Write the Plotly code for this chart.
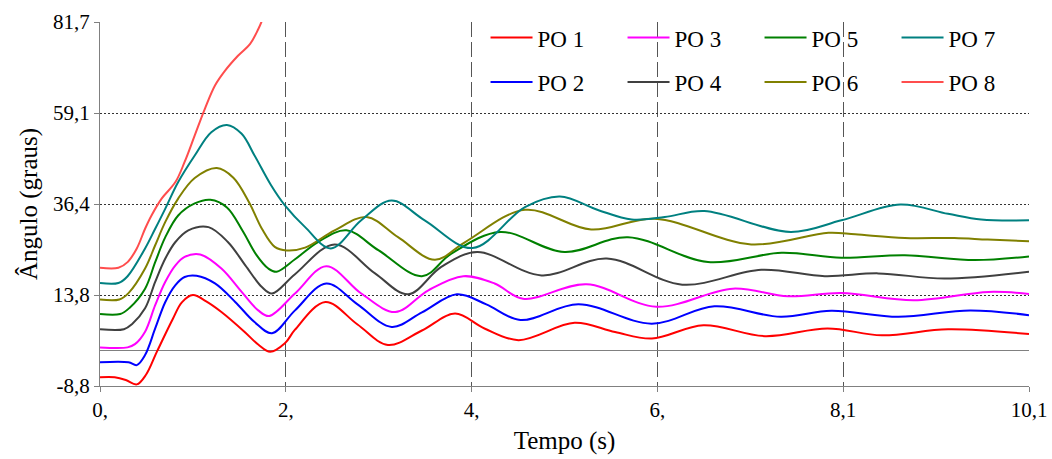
import plotly.graph_objects as go

# Time stamps (s) and rotor angles (graus) for each generator
t_po1 = [0.0, 0.16, 0.28, 0.40, 0.50, 0.62, 0.79, 0.89, 1.01, 1.15, 1.32, 1.57, 1.72, 1.85, 2.01,
         2.12, 2.45, 2.80, 3.13, 3.50, 3.86, 4.18, 4.55, 5.16, 5.60, 6.00, 6.56, 7.23, 7.91, 8.50,
         9.22, 10.1]
po1 = [-6.65, -6.65, -7.3, -8.4, -6.0, -0.2, 7.8, 12.0, 13.8, 12.3, 9.6, 4.7, 1.5, -0.3, 1.8,
       5.2, 12.1, 6.5, 1.4, 5.0, 9.2, 5.5, 2.6, 6.9, 4.6, 3.0, 6.3, 3.6, 5.5, 3.8,
       5.3, 4.1]

t_po2 = [0.0, 0.31, 0.40, 0.49, 0.60, 0.71, 0.82, 0.92, 1.05, 1.25, 1.47, 1.68, 1.87, 2.12, 2.46,
         2.80, 3.17, 3.50, 3.88, 4.20, 4.57, 5.20, 6.00, 6.68, 7.40, 7.95, 8.68, 9.46, 10.1]
po2 = [-2.9, -2.9, -3.6, -1.1, 5.5, 12.1, 16.3, 18.3, 18.6, 16.7, 12.1, 7.1, 4.3, 10.0, 16.7,
       11.5, 5.9, 9.5, 14.0, 11.5, 7.6, 11.5, 6.7, 11.0, 8.4, 9.9, 8.4, 10.0, 8.8]

t_po3 = [0.0, 0.30, 0.38, 0.49, 0.60, 0.71, 0.82, 0.92, 1.09, 1.32, 1.54, 1.72, 1.84, 2.12, 2.46,
         2.84, 3.21, 3.57, 3.95, 4.29, 4.60, 5.29, 6.05, 6.88, 7.48, 8.06, 8.85, 9.66, 10.1]
po3 = [0.8, 0.8, 1.6, 4.7, 11.3, 17.1, 21.2, 23.3, 23.9, 20.4, 14.6, 10.0, 8.6, 14.2, 21.0,
       14.2, 9.6, 15.0, 18.5, 16.7, 12.9, 16.5, 10.9, 15.4, 13.5, 14.3, 12.5, 14.6, 14.1]

t_po4 = [0.0, 0.26, 0.35, 0.49, 0.60, 0.71, 0.82, 0.96, 1.18, 1.39, 1.58, 1.76, 1.87, 2.12, 2.55,
         2.99, 3.35, 3.71, 4.10, 4.80, 5.51, 6.33, 7.19, 7.88, 8.46, 9.18, 10.1]
po4 = [5.3, 5.3, 6.6, 10.5, 17.1, 22.9, 27.0, 29.9, 30.7, 27.0, 21.2, 15.8, 14.2, 19.0, 26.4,
       19.2, 14.0, 20.8, 24.5, 18.7, 22.9, 16.4, 20.1, 18.5, 19.2, 17.9, 19.6]

t_po5 = [0.0, 0.22, 0.32, 0.49, 0.60, 0.71, 0.85, 1.03, 1.20, 1.38, 1.55, 1.70, 1.83, 1.92, 2.12,
         2.37, 2.68, 3.03, 3.50, 3.82, 4.35, 5.05, 5.74, 6.61, 7.41, 8.06, 8.75, 9.51, 10.1]
po5 = [9.1, 9.1, 10.6, 15.4, 22.0, 28.2, 33.6, 36.6, 37.5, 35.6, 29.8, 23.8, 20.4, 19.6, 22.7,
       27.0, 29.9, 24.9, 18.5, 24.1, 29.5, 24.5, 28.2, 22.0, 24.3, 23.1, 23.7, 22.5, 23.4]

t_po6 = [0.0, 0.21, 0.31, 0.49, 0.60, 0.71, 0.85, 1.03, 1.27, 1.45, 1.62, 1.76, 1.90, 2.03, 2.23,
         2.55, 2.90, 3.24, 3.64, 3.97, 4.62, 5.34, 6.03, 7.08, 7.92, 8.21, 8.75, 9.29, 9.65, 10.1]
po6 = [12.7, 12.7, 14.3, 20.4, 26.2, 32.0, 37.8, 42.9, 45.4, 43.0, 36.9, 30.3, 25.8, 24.9, 25.6,
       29.9, 33.2, 28.2, 22.6, 27.0, 35.0, 30.1, 32.8, 26.4, 29.3, 28.9, 28.0, 28.0, 27.6, 27.2]

t_po7 = [0.0, 0.20, 0.30, 0.49, 0.60, 0.71, 0.85, 1.03, 1.21, 1.38, 1.54, 1.68, 1.86, 2.01, 2.23,
         2.51, 2.84, 3.17, 3.53, 4.05, 4.62, 5.00, 5.42, 5.78, 6.14, 6.57, 7.51, 8.06, 8.70, 9.22,
         9.58, 10.1]
po7 = [16.8, 16.8, 18.5, 25.4, 30.3, 35.3, 41.9, 48.5, 54.3, 56.1, 53.9, 48.5, 41.1, 36.1, 30.7,
       25.4, 32.4, 37.3, 32.4, 25.5, 35.7, 38.3, 34.9, 32.6, 33.2, 34.7, 29.5, 32.4, 36.3, 34.0,
       32.6, 32.4]

t_po8 = [0.0, 0.20, 0.30, 0.40, 0.49, 0.56, 0.67, 0.82, 0.92, 1.03, 1.14, 1.25, 1.36, 1.50, 1.63,
         1.72, 1.76, 1.80]
po8 = [20.6, 20.6, 22.0, 25.4, 30.3, 33.6, 37.8, 41.9, 46.9, 53.5, 60.1, 65.9, 69.6, 73.3, 76.2,
       79.9, 82.0, 85.0]

names = ["PO 1", "PO 2", "PO 3", "PO 4", "PO 5", "PO 6", "PO 7", "PO 8"]
times = [t_po1, t_po2, t_po3, t_po4, t_po5, t_po6, t_po7, t_po8]
angles = [po1, po2, po3, po4, po5, po6, po7, po8]
colors = ["#ff0000", "#0000ff", "#ff00ff", "#404040", "#008000", "#808000", "#008080", "#ff4d4d"]
# odd-numbered units go in the first legend row, even-numbered in the second
legend_ids = ["legend", "legend2"] * 4

x_tickvals = [0, 2.02, 4.04, 6.06, 8.08, 10.1]
x_ticktext = ["0,", "2,", "4,", "6,", "8,1", "10,1"]
y_tickvals = [-8.8, 13.825, 36.45, 59.075, 81.7]
y_ticktext = ["-8,8", "13,8", "36,4", "59,1", "81,7"]

SERIF = "Liberation Serif"

fig = go.Figure()
for name, t, a, c, lg in zip(names, times, angles, colors, legend_ids):
    fig.add_trace(go.Scatter(
        x=t, y=a, name=name, mode="lines",
        line=dict(color=c, width=2, shape="spline", smoothing=1.0),
        legend=lg,
    ))

legend_common = dict(
    orientation="h", bgcolor="rgba(0,0,0,0)", borderwidth=0,
    font=dict(family=SERIF, size=23, color="#000000"),
    entrywidth=80, xanchor="left", yanchor="middle",
    itemwidth=42, tracegroupgap=0,
)

fig.update_layout(
    width=1052, height=459,
    margin=dict(l=100, r=23, t=22, b=73, autoexpand=False),
    paper_bgcolor="white", plot_bgcolor="white",
    font=dict(family=SERIF, size=21, color="#000000"),
    showlegend=True,
    legend=dict(x=0.415, y=0.957, **legend_common),
    legend2=dict(x=0.415, y=0.835, **legend_common),
    xaxis=dict(
        range=[0, 10.1], tickmode="array", tickvals=x_tickvals, ticktext=x_ticktext,
        showgrid=True, gridcolor="#555555", gridwidth=1, griddash="15px,5px",
        showline=True, linecolor="#808080", linewidth=1,
        ticks="outside", ticklen=5, tickcolor="#808080",
        zeroline=False, tickfont=dict(family=SERIF, size=21, color="#000000"),
        title=dict(text="Tempo (s)", font=dict(family=SERIF, size=25, color="#000000"),
                   standoff=10),
    ),
    yaxis=dict(
        range=[-8.8, 81.7], tickmode="array", tickvals=y_tickvals, ticktext=y_ticktext,
        showgrid=True, gridcolor="#333333", gridwidth=1, griddash="2px,2px",
        showline=True, linecolor="#808080", linewidth=1,
        ticks="outside", ticklen=5, tickcolor="#808080",
        zeroline=True, zerolinecolor="#808080", zerolinewidth=1,
        tickfont=dict(family=SERIF, size=21, color="#000000"),
        title=dict(text="Ângulo (graus)", font=dict(family=SERIF, size=25, color="#000000"),
                   standoff=8),
    ),
)

# make sure every SVG label uses the serif face once the figure is drawn
serif_script = (
    "document.querySelectorAll('.main-svg text, .main-svg tspan').forEach("
    "function(el){el.style.fontFamily = \"'Liberation Serif', serif\";});"
)

fig.write_html("out.html", post_script=serif_script)
